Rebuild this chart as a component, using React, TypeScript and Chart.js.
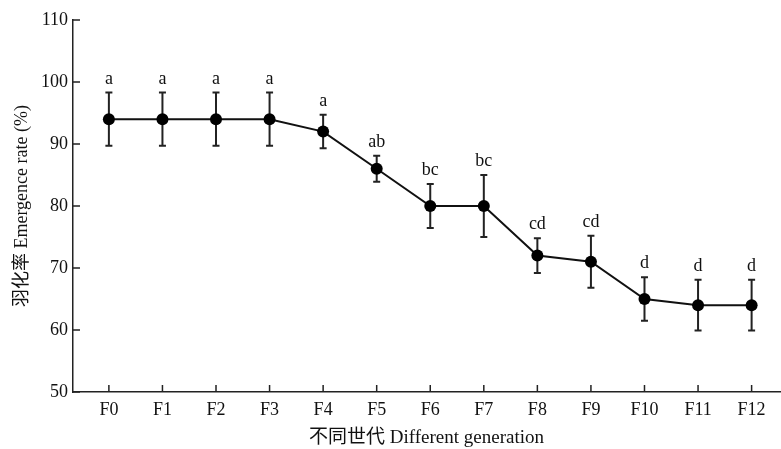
import React, { useEffect, useRef } from "react";
import { Chart, registerables } from "chart.js";

Chart.register(...registerables);

const categories = ["F0", "F1", "F2", "F3", "F4", "F5", "F6", "F7", "F8", "F9", "F10", "F11", "F12"];
const emergenceRate = [94, 94, 94, 94, 92, 86, 80, 80, 72, 71, 65, 64, 64];
const errorValues = [4.3, 4.3, 4.3, 4.3, 2.7, 2.1, 3.55, 5, 2.8, 4.2, 3.5, 4.1, 4.1];
const letters = ["a", "a", "a", "a", "a", "ab", "bc", "bc", "cd", "cd", "d", "d", "d"];
const yTickValues = [50, 60, 70, 80, 90, 100, 110];

const FONT = '"Liberation Serif", "Times New Roman", "Noto Sans CJK SC", serif';
const AXIS_COLOR = "#222";

const overlayPlugin = {
  id: "errorBarsAndLetters",
  beforeDatasetsDraw(chart: any) {
    const { ctx, scales } = chart;
    const xs = scales.x;
    const ys = scales.y;
    ctx.save();
    ctx.strokeStyle = "#222";
    ctx.lineWidth = 2;
    emergenceRate.forEach((v, i) => {
      const x = xs.getPixelForValue(i);
      const yT = ys.getPixelForValue(v + errorValues[i]);
      const yB = ys.getPixelForValue(v - errorValues[i]);
      ctx.beginPath();
      ctx.moveTo(x, yT);
      ctx.lineTo(x, yB);
      ctx.moveTo(x - 3.5, yT);
      ctx.lineTo(x + 3.5, yT);
      ctx.moveTo(x - 3.5, yB);
      ctx.lineTo(x + 3.5, yB);
      ctx.stroke();
    });
    ctx.restore();
  },
  afterDatasetsDraw(chart: any) {
    const { ctx, scales } = chart;
    const xs = scales.x;
    const ys = scales.y;
    ctx.save();
    ctx.fillStyle = "#111";
    ctx.font = `18px ${FONT}`;
    ctx.textAlign = "center";
    ctx.textBaseline = "alphabetic";
    emergenceRate.forEach((v, i) => {
      const x = xs.getPixelForValue(i);
      const yT = ys.getPixelForValue(v + errorValues[i]);
      ctx.fillText(letters[i], x, yT - 9);
    });
    ctx.restore();
  },
  afterDraw(chart: any) {
    const { ctx, scales, chartArea } = chart;
    const xs = scales.x;
    const ys = scales.y;
    ctx.save();
    ctx.strokeStyle = AXIS_COLOR;
    ctx.lineWidth = 1.5;
    ctx.beginPath();
    yTickValues.forEach((t) => {
      const y = ys.getPixelForValue(t);
      ctx.moveTo(chartArea.left, y);
      ctx.lineTo(chartArea.left + 7, y);
    });
    categories.forEach((_, i) => {
      const x = xs.getPixelForValue(i);
      ctx.moveTo(x, chartArea.bottom);
      ctx.lineTo(x, chartArea.bottom - 7);
    });
    ctx.stroke();
    ctx.restore();
  },
};

export default function App() {
  const canvasRef = useRef<HTMLCanvasElement | null>(null);

  useEffect(() => {
    if (!canvasRef.current) return;
    const chart = new Chart(canvasRef.current, {
      type: "line",
      data: {
        datasets: [
          {
            label: "羽化率",
            data: emergenceRate.map((v, i) => ({ x: i, y: v })),
            borderColor: "#111",
            backgroundColor: "#000",
            borderWidth: 2,
            pointRadius: 6,
            pointBackgroundColor: "#000",
            pointBorderColor: "#000",
            pointBorderWidth: 0,
            tension: 0,
          },
        ],
      },
      options: {
        responsive: false,
        animation: false,
        layout: { autoPadding: false, padding: { top: 20, right: 1, left: 0, bottom: 0 } },
        plugins: {
          legend: { display: false },
          tooltip: { enabled: false },
        },
        scales: {
          x: {
            type: "linear",
            min: -0.67,
            max: 12.53,
            afterBuildTicks: (scale: any) => {
              scale.ticks = categories.map((_, i) => ({ value: i }));
            },
            afterFit: (scale: any) => {
              scale.height = 57;
              scale.paddingLeft = 0;
              scale.paddingRight = 0;
            },
            grid: { display: false, drawTicks: false },
            border: { display: true, color: AXIS_COLOR, width: 1.5 },
            ticks: {
              autoSkip: false,
              maxRotation: 0,
              padding: 7,
              color: "#111",
              font: { family: FONT, size: 18 },
              callback: (v: any) => categories[v as number] ?? "",
            },
            title: {
              display: true,
              text: "不同世代 Different generation",
              color: "#111",
              font: { family: FONT, size: 19 },
              padding: { top: 0, bottom: 0 },
            },
          },
          y: {
            type: "linear",
            min: 50,
            max: 110,
            afterBuildTicks: (scale: any) => {
              scale.ticks = yTickValues.map((v) => ({ value: v }));
            },
            afterFit: (scale: any) => {
              scale.width = 73;
            },
            grid: { display: false, drawTicks: false },
            border: { display: true, color: AXIS_COLOR, width: 1.5 },
            ticks: {
              padding: 5,
              color: "#111",
              font: { family: FONT, size: 18 },
            },
            title: {
              display: true,
              text: "羽化率 Emergence rate (%)",
              color: "#111",
              font: { family: FONT, size: 18 },
              padding: { top: 11, bottom: 0 },
            },
          },
        },
      },
      plugins: [overlayPlugin],
    });
    return () => chart.destroy();
  }, []);

  return (
    <div style={{ position: "absolute", left: 0, top: 0, width: 781, height: 449, background: "#fff" }}>
      <canvas ref={canvasRef} width={781} height={449} style={{ display: "block" }} />
    </div>
  );
}
